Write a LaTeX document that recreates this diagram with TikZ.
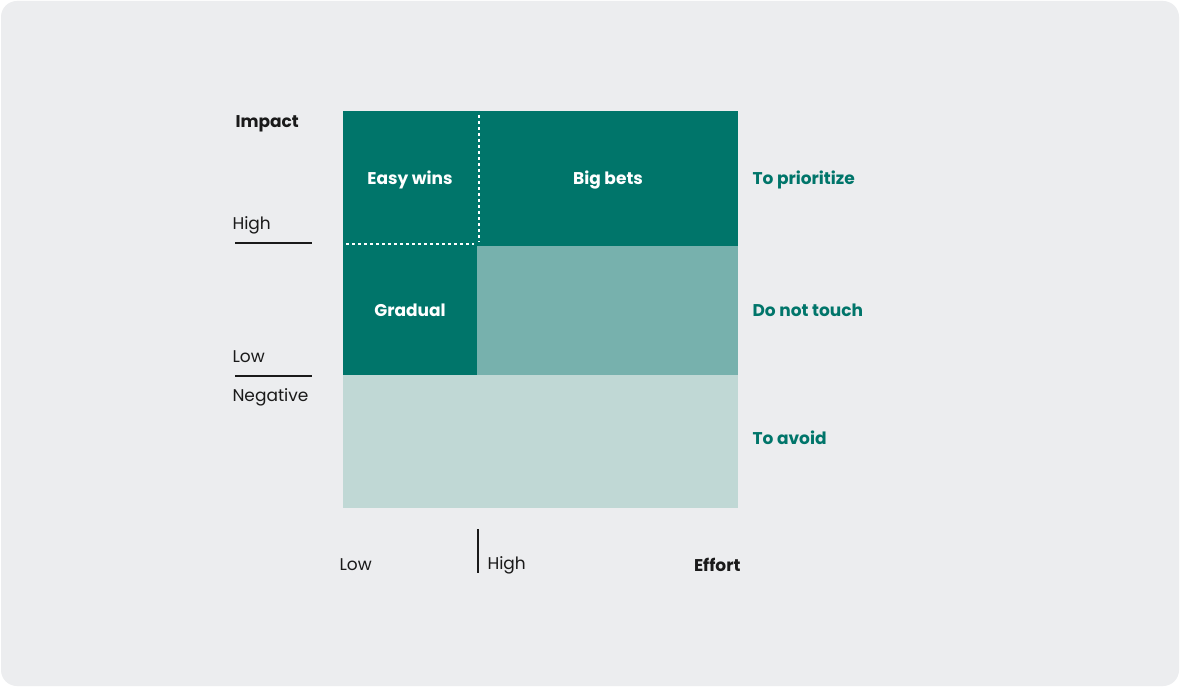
\documentclass[tikz,border=0pt]{standalone}
\usepackage{fontspec}
\setmainfont{Poppins}
\definecolor{bg}{HTML}{ECEDEF}
\definecolor{dk}{HTML}{00756A}
\definecolor{md}{HTML}{77B1AD}
\definecolor{lt}{HTML}{C0D8D5}
\definecolor{tx}{HTML}{1A1A1A}
\begin{document}
\begin{tikzpicture}[x=1pt,y=-1pt,
  cell/.style={font=\fontsize{17}{20}\selectfont\bfseries,text=white},
  side/.style={font=\fontsize{17}{20}\selectfont\bfseries,text=dk,anchor=west},
  ax/.style={font=\fontsize{17}{20}\selectfont,text=tx},
  axb/.style={font=\fontsize{17}{20}\selectfont\bfseries,text=tx}]
\useasboundingbox (0,0) rectangle (1180,687);
\fill[white] (0,0) rectangle (1180,687);
\fill[bg,rounded corners=16pt] (1,1) rectangle (1179,686);
\fill[dk] (343,111) rectangle (738,246);
\fill[dk] (343,246) rectangle (477,375);
\fill[md] (477,246) rectangle (738,375);
\fill[lt] (343,375) rectangle (738,508);
\draw[white,dashed,line width=1.2pt] (479,115) -- (479,242);
\draw[white,dashed,line width=1.2pt] (346,244) -- (474,244);
\node[cell] (ew) at (410,180) {Easy wins};
\node[cell] (bb) at (608,180) {Big bets};
\node[cell] (gr) at (410,310) {Gradual};
\node[side] (tp) at (749,180) {To prioritize};
\node[side] (dn) at (749,310) {Do not touch};
\node[side] (ta) at (749,438) {To avoid};
\node[axb,anchor=west] (im) at (232,124) {Impact};
\node[ax,anchor=west] (hi) at (229,225) {High};
\draw[tx,line width=1.2pt] (235,243) -- (312,243);
\node[ax,anchor=west] (lo) at (229,357) {Low};
\draw[tx,line width=1.2pt] (235,376) -- (312,376);
\node[ax,anchor=west] (ng) at (229,397) {Negative};
\node[ax,anchor=west] (el) at (336,565) {Low};
\draw[tx,line width=1.2pt] (478,529) -- (478,573);
\node[ax,anchor=west] (eh) at (484,565) {High};
\node[axb,anchor=east] (ef) at (744,565) {Effort};
\end{tikzpicture}
\end{document}
